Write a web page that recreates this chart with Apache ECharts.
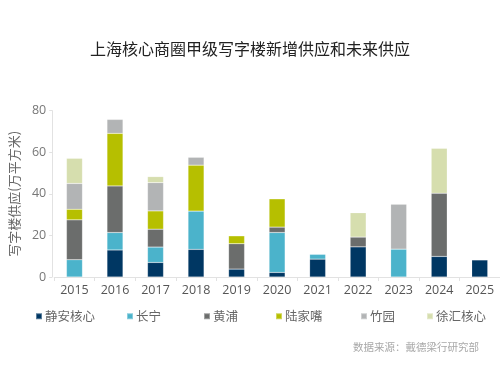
<!DOCTYPE html>
<html><head><meta charset="utf-8">
<script src="https://cdn.jsdelivr.net/npm/echarts@6/dist/echarts.min.js"></script>
<style>html,body{margin:0;padding:0;background:#fff}#c{width:500px;height:368px}</style>
</head><body><div id="c"></div>
<script>
const categories = ['2015','2016','2017','2018','2019','2020','2021','2022','2023','2024','2025'];
const seriesNames = ['静安核心','长宁','黄浦','陆家嘴','竹园','徐汇核心'];
const jingan   = [0, 13.0, 7.0, 13.3, 3.8, 2.2, 8.6, 14.5, 0, 9.9, 8.2];
const changning= [8.3, 8.4, 7.4, 18.4, 0, 19.2, 2.3, 0, 13.4, 0, 0];
const huangpu  = [19.2, 22.4, 8.6, 0, 12.2, 2.6, 0, 4.7, 0, 30.4, 0];
const lujiazui = [5.1, 25.3, 8.8, 22.1, 3.8, 13.6, 0, 0, 0, 0, 0];
const zhuyuan  = [12.4, 6.7, 13.6, 3.8, 0, 0, 0, 0, 21.6, 0, 0];
const xuhui    = [12.1, 0, 2.9, 0, 0, 0, 0, 11.7, 0, 21.6, 0];
const yTicks = [0, 20, 40, 60, 80];
const colors = ['#003763','#4bb3cb','#6b6d6c','#b6bf00','#b2b4b5','#d6deae'];
const allData = [jingan, changning, huangpu, lujiazui, zhuyuan, xuhui];
const legendLeft = [30, 121, 198, 270, 355, 421];

const chart = echarts.init(document.getElementById('c'), null, {renderer:'canvas'});
const cjk = '"Noto Sans CJK SC","Noto Sans",sans-serif';
chart.setOption({
  animation:false,
  color: colors,
  title:[{
    text:'上海核心商圈甲级写字楼新增供应和未来供应',
    left:'center', top:36,
    textStyle:{fontSize:16, fontWeight:'normal', color:'#222', fontFamily:cjk}
  },{
    text:'数据来源：戴德梁行研究部',
    right:16, top:337,
    textStyle:{fontSize:10.5, fontWeight:'normal', color:'#a8a8a8', fontFamily:cjk}
  }],
  legend: seriesNames.map((n,i)=>({
    data:[n], left:legendLeft[i], top:305,
    icon:'rect', itemWidth:6, itemHeight:6, itemGap:4,
    textStyle:{fontSize:12.5, color:'#666', fontFamily:cjk, padding:[0,0,0,-2]}
  })),
  grid:{left:54, right:0, top:110.7, bottom:91, containLabel:false},
  xAxis:{
    type:'category', data:categories,
    axisLine:{lineStyle:{color:'#e2e2e2'}},
    axisTick:{show:true, length:4, lineStyle:{color:'#e2e2e2'}},
    axisLabel:{fontSize:12.5, color:'#555', margin:7, fontFamily:'"Open Sans",sans-serif'}
  },
  yAxis:{
    type:'value', min:0, max:80, interval:20, offset:2,
    name:'写字楼供应(万平方米)', nameLocation:'middle', nameGap:29,
    nameTextStyle:{fontSize:13, color:'#666', fontFamily:cjk},
    axisLine:{show:true, lineStyle:{color:'#e2e2e2'}},
    axisTick:{show:true, length:3, lineStyle:{color:'#e2e2e2'}},
    splitLine:{show:false},
    axisLabel:{fontSize:12.5, color:'#777', margin:6, fontFamily:'"Open Sans",sans-serif',
      formatter:v=> yTicks.includes(v) ? String(v) : ''}
  },
  series: seriesNames.map((n,i)=>({
    name:n, type:'bar', stack:'total', barWidth:16,
    data: allData[i].map(v=> v===0 ? '-' : v),
    itemStyle:{color:colors[i], borderColor:'rgba(255,255,255,0.35)', borderWidth:0.5}
  }))
});
</script></body></html>
